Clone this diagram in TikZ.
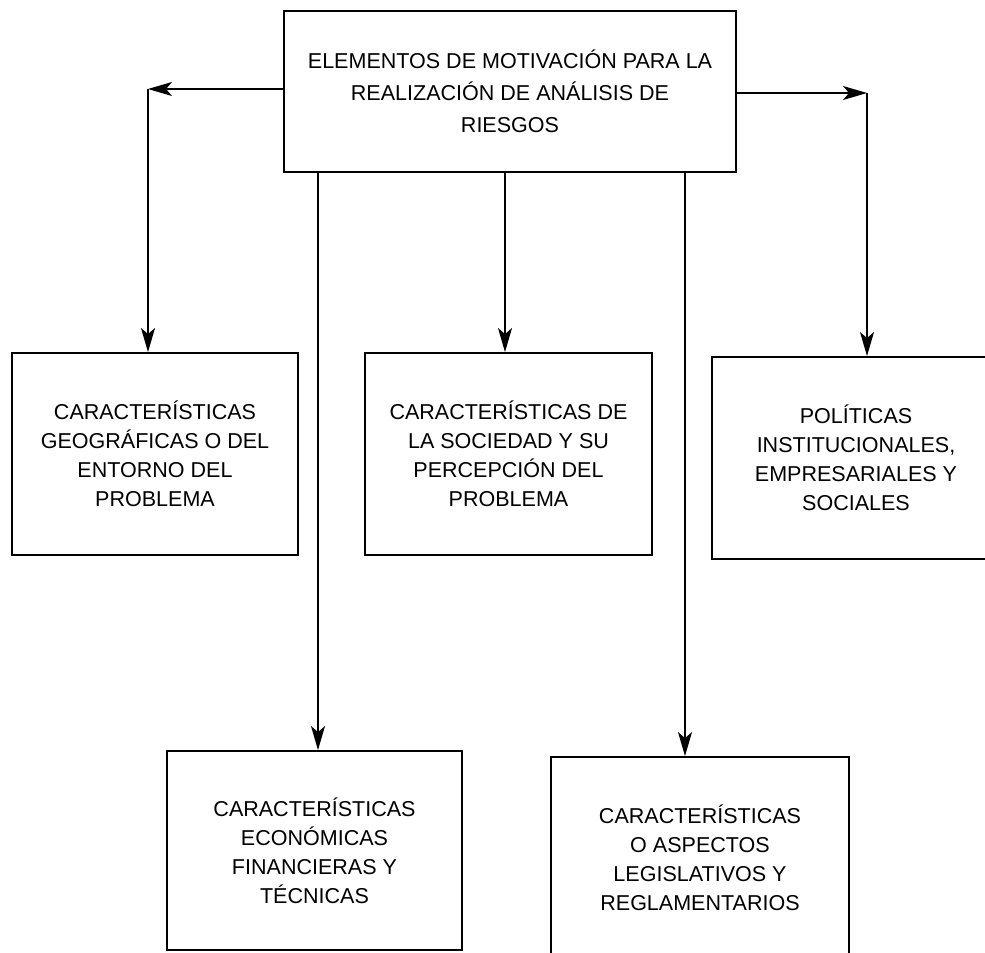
\documentclass[tikz,border=0pt]{standalone}
\usepackage{fontspec}
\setmainfont{Liberation Sans}
\usetikzlibrary{arrows.meta}
\begin{document}
\begin{tikzpicture}[x=1bp,y=-1bp,
  box/.style={draw=black, line width=1.9bp, inner sep=0pt, align=center,
    minimum width=288bp, minimum height=202bp,
    font=\fontsize{21.6pt}{29pt}\selectfont},
  link/.style={draw=black, line width=1.2bp,
    -{Stealth[length=24bp,width=14bp,inset=6bp]}}]
\useasboundingbox (0,0) rectangle (985,953);
\fill[white] (0,0) rectangle (985,953);

% central box
\node[box, minimum width=452bp, minimum height=161bp,
  font=\fontsize{21.6pt}{32pt}\selectfont] (top) at (510,91.5)
  {ELEMENTOS DE MOTIVACIÓN PARA LA\\REALIZACIÓN DE ANÁLISIS DE\\RIESGOS};

% middle row
\node[box, minimum width=286bp] (geo) at (155,454)
  {CARACTERÍSTICAS\\GEOGRÁFICAS O DEL\\ENTORNO DEL\\PROBLEMA};
\node[box, minimum width=287bp] (soc) at (508.5,454)
  {CARACTERÍSTICAS DE\\LA SOCIEDAD Y SU\\PERCEPCIÓN DEL\\PROBLEMA};
\node[box, minimum width=288bp] (pol) at (856,458)
  {POLÍTICAS\\INSTITUCIONALES,\\EMPRESARIALES Y\\SOCIALES};

% bottom row
\node[box, minimum width=295bp, minimum height=199bp] (eco) at (314.5,850.5)
  {CARACTERÍSTICAS\\ECONÓMICAS\\FINANCIERAS Y\\TÉCNICAS};
\node[box, minimum width=298bp] (leg) at (700,858)
  {CARACTERÍSTICAS\\O ASPECTOS\\LEGISLATIVOS Y\\REGLAMENTARIOS};

% connector columns and corners
\coordinate (kL) at (148,89);
\coordinate (kR) at (867,93);
\coordinate (cE) at (318,0);
\coordinate (cS) at (505,0);
\coordinate (cG) at (685,0);

% side branches: horizontal run, then down
\draw[link] (top.west |- kL) -- (kL);
\draw[link] (kL) -- (geo.north -| kL);
\draw[link] (top.east |- kR) -- (kR);
\draw[link] (kR) -- (pol.north -| kR);

% straight branches from the bottom edge
\draw[link] (top.south -| cE) -- (eco.north -| cE);
\draw[link] (top.south -| cS) -- (soc.north -| cS);
\draw[link] (top.south -| cG) -- (leg.north -| cG);
\end{tikzpicture}
\end{document}
